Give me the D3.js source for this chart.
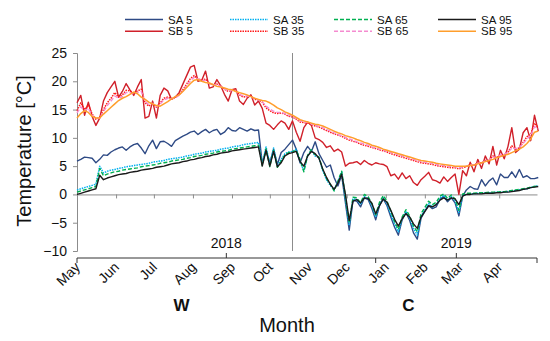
<!DOCTYPE html>
<html>
<head>
<meta charset="utf-8">
<script src="https://cdn.jsdelivr.net/npm/d3@7"></script>
<style>
    body { margin: 0; background: #fff; }
    svg { font-family: "Liberation Sans", Arial, sans-serif; }
</style>
</head>
<body>
<div id="chart"></div>
<script>
// sampling: one value every 3 days starting 1 May 2018
const startDate = new Date(2018, 4, 1);
const endDate = new Date(2019, 4, 1);
const stepDays = 3;

const monthLabels = ["May", "Jun", "Jul", "Aug", "Sep", "Oct", "Nov", "Dec", "Jan", "Feb", "Mar", "Apr"];
const yTicks = [-10, -5, 0, 5, 10, 15, 20, 25];
const yearLabels = ["2018", "2019"];
const yearBreaks = [new Date(2018, 4, 1), new Date(2018, 11, 24), new Date(2019, 4, 1)];
const dividerDate = new Date(2018, 9, 19);
const seasonLabels = ["W", "C"];
const seasonDates = [new Date(2018, 6, 23), new Date(2019, 0, 19)];

const seriesNames = ["SA 5", "SB 5", "SA 35", "SB 35", "SA 65", "SB 65", "SA 95", "SB 95"];

const sa5 = [
    5.9, 6.2, 6.6, 6.5, 6.4, 5.6, 6.2, 7.0, 6.9, 7.5,
    7.9, 8.2, 8.4, 7.8, 8.4, 8.8, 9.0, 8.2, 7.2, 8.6,
    9.6, 8.1, 9.3, 9.4, 9.0, 8.5, 9.5, 9.9, 10.3, 10.6,
    11.0, 11.2, 10.6, 11.1, 11.5, 10.9, 11.3, 11.5, 10.6, 11.0,
    11.8, 11.3, 11.2, 11.8, 11.5, 11.2, 11.6, 11.3, 11.4, 5.5,
    7.8, 5.6, 8.0, 5.3, 7.4, 8.0, 8.8, 9.6, 8.0, 5.6,
    7.4, 8.5, 7.6, 9.3, 7.2, 6.0, 4.8, 5.2, 3.0, 1.5,
    3.4, -1.5, -6.3, -1.0, -1.2, -2.2, -0.6, -0.9, -2.5, -4.5,
    -2.0, -0.8, -2.0, -4.0, -5.8, -7.2, -4.5, -3.2, -4.6, -6.8,
    -7.9, -4.2, -3.0, -2.0, -2.5, -2.2, -0.9, -0.3, -1.3, -0.6,
    -1.5, -3.8, -0.3, 0.8, 1.4, 1.0, 0.9, 2.6, 1.5, 2.4,
    2.9, 1.7, 3.6, 3.0, 3.0, 4.0, 3.0, 4.4, 3.0, 3.3,
    2.8, 2.8, 3.0
];
const sb5 = [
    16.2, 17.5, 14.0, 16.3, 13.8, 12.2, 13.5, 16.5, 18.0, 19.0,
    20.0, 17.2, 18.2, 19.6, 18.5, 17.5, 19.0, 20.3, 13.5, 13.8,
    16.5, 13.5, 17.5, 18.8, 18.3, 16.8, 17.2, 18.0, 19.5, 21.0,
    22.5, 22.8, 20.0, 20.2, 21.8, 18.8, 19.0, 20.3, 19.2, 17.7,
    16.5, 18.5, 18.7, 16.5, 15.9, 17.0, 17.6, 15.8, 16.5, 15.2,
    12.6, 12.2, 11.5, 12.3, 13.0, 12.6, 11.5, 13.0, 11.0, 9.4,
    11.8, 12.8, 12.2, 10.0, 9.7, 9.2, 8.3, 8.6, 7.6, 8.0,
    7.5, 5.0, 5.5, 5.6, 5.8, 5.3, 6.0, 5.5, 5.2, 5.6,
    5.4, 5.3, 4.9, 3.3, 3.6, 2.7, 3.8, 2.8, 3.3, 2.1,
    1.6, 2.6, 3.2, 3.9, 2.6, 2.4, 2.0, 3.1, 2.3, 3.0,
    3.6, 0.0, 4.2, 3.3, 5.7, 4.0, 6.2, 4.6, 6.8, 5.4,
    8.5, 5.2, 7.8, 6.3, 8.5, 11.8, 7.4, 8.0, 10.9, 11.8,
    9.5, 14.0, 11.2
];
const sa35 = [
    0.8, 1.0, 1.2, 1.4, 1.6, 1.8, 5.0, 3.8, 4.1, 4.3,
    4.4, 4.6, 4.7, 4.9, 5.0, 5.1, 5.2, 5.3, 5.4, 5.5,
    5.7, 5.8, 5.9, 6.0, 6.2, 6.3, 6.4, 6.5, 6.6, 6.8,
    6.9, 7.1, 7.2, 7.3, 7.5, 7.6, 7.7, 7.8, 8.0, 8.1,
    8.2, 8.4, 8.5, 8.6, 8.8, 8.9, 9.0, 9.1, 9.2, 5.4,
    8.4, 5.3, 8.2, 5.0, 6.2, 7.2, 7.5, 7.6, 8.0, 5.8,
    4.2, 6.8, 7.8, 6.8, 6.5, 4.2, 2.6, 1.6, 0.8, 2.2,
    4.0, -0.8, -5.5, -0.8, -0.9, -1.8, -0.4, -0.7, -2.0, -4.0,
    -1.8, -0.6, -1.7, -3.5, -5.2, -6.6, -4.2, -3.0, -4.2, -6.0,
    -7.2, -3.8, -2.8, -1.6, -2.2, -1.8, -0.6, -0.2, -1.0, -0.4,
    -1.1, -3.2, -0.2, 0.0, 0.1, 0.1, 0.2, 0.2, 0.3, 0.3,
    0.3, 0.4, 0.4, 0.4, 0.5, 0.6, 0.7, 0.8, 0.9, 1.0,
    1.2, 1.4, 1.5
];
const sb35 = [
    14.8, 16.2, 15.0, 15.8, 14.2, 13.3, 13.6, 15.0, 16.2, 17.0,
    18.0, 17.2, 17.6, 18.4, 18.3, 17.8, 18.3, 18.6, 16.2, 15.6,
    16.2, 15.4, 16.2, 17.0, 17.2, 16.9, 17.2, 17.6, 18.5, 19.5,
    20.5, 21.0, 20.4, 20.2, 20.4, 19.6, 19.4, 19.5, 19.2, 18.6,
    18.2, 18.4, 18.4, 17.6, 17.2, 17.3, 17.4, 16.8, 16.7, 16.3,
    15.3, 14.8, 14.4, 14.3, 14.4, 14.2, 13.8, 13.7, 13.3, 12.8,
    12.7, 12.6, 12.4, 12.1, 11.9, 11.6, 11.3, 11.0, 10.7, 10.5,
    10.3, 9.9, 9.6, 9.4, 9.2, 8.9, 8.7, 8.5, 8.3, 8.1,
    7.9, 7.7, 7.5, 7.2, 7.0, 6.8, 6.6, 6.4, 6.2, 6.0,
    5.8, 5.6, 5.5, 5.4, 5.3, 5.1, 5.0, 4.9, 4.8, 4.7,
    4.7, 4.5, 4.7, 4.9, 5.3, 5.2, 5.6, 5.6, 6.0, 6.0,
    6.8, 6.5, 7.0, 7.0, 7.5, 8.6, 8.0, 8.2, 9.2, 10.2,
    10.6, 12.6, 11.8
];
const sa65 = [
    0.4, 0.6, 0.8, 1.0, 1.2, 1.4, 4.6, 3.3, 3.6, 3.8,
    4.0, 4.1, 4.3, 4.4, 4.5, 4.6, 4.7, 4.9, 5.0, 5.1,
    5.2, 5.3, 5.5, 5.6, 5.7, 5.9, 6.0, 6.1, 6.2, 6.4,
    6.5, 6.7, 6.8, 6.9, 7.1, 7.2, 7.3, 7.5, 7.6, 7.7,
    7.8, 8.0, 8.1, 8.2, 8.3, 8.4, 8.5, 8.6, 8.7, 5.1,
    8.1, 4.9, 7.8, 4.8, 5.9, 7.0, 7.4, 7.5, 7.8, 6.2,
    4.0, 6.9, 7.9, 7.0, 6.6, 4.4, 2.8, 1.8, 0.6, 2.3,
    4.1, -0.4, -5.0, -0.5, -0.6, -1.5, 0.0, -0.4, -1.6, -3.6,
    -1.4, -0.2, -1.2, -3.0, -4.8, -6.2, -4.0, -2.7, -3.8, -5.6,
    -6.6, -3.4, -2.3, -1.2, -1.8, -1.4, -0.3, 0.1, -0.7, -0.1,
    -0.8, -2.8, 0.1, 0.2, 0.2, 0.2, 0.3, 0.3, 0.3, 0.4,
    0.4, 0.4, 0.5, 0.5, 0.6, 0.7, 0.8, 0.9, 1.0, 1.1,
    1.3, 1.4, 1.5
];
const sb65 = [
    14.4, 15.5, 14.8, 15.2, 14.0, 13.4, 13.5, 14.6, 15.7, 16.5,
    17.4, 17.0, 17.3, 18.0, 18.0, 17.7, 18.0, 18.2, 16.5, 15.9,
    16.1, 15.5, 16.0, 16.7, 17.0, 16.9, 17.1, 17.5, 18.3, 19.2,
    20.1, 20.7, 20.4, 20.1, 20.2, 19.6, 19.4, 19.4, 19.1, 18.7,
    18.3, 18.4, 18.3, 17.7, 17.4, 17.4, 17.3, 16.9, 16.7, 16.4,
    15.6, 15.1, 14.7, 14.5, 14.5, 14.3, 14.0, 13.8, 13.4, 13.0,
    12.8, 12.7, 12.5, 12.2, 12.0, 11.8, 11.5, 11.2, 10.9, 10.6,
    10.4, 10.1, 9.8, 9.6, 9.3, 9.1, 8.9, 8.7, 8.4, 8.2,
    8.0, 7.8, 7.6, 7.4, 7.2, 7.0, 6.8, 6.6, 6.4, 6.2,
    6.0, 5.8, 5.7, 5.6, 5.5, 5.3, 5.2, 5.1, 5.0, 4.9,
    4.9, 4.7, 4.8, 5.0, 5.2, 5.3, 5.5, 5.7, 5.9, 6.1,
    6.6, 6.6, 7.0, 7.1, 7.4, 8.2, 8.1, 8.3, 9.0, 9.8,
    10.4, 12.0, 11.6
];
const sa95 = [
    0.0, 0.2, 0.4, 0.6, 0.8, 1.0, 3.4, 2.6, 2.9, 3.1,
    3.3, 3.5, 3.6, 3.7, 3.9, 4.0, 4.1, 4.3, 4.4, 4.5,
    4.6, 4.8, 4.9, 5.0, 5.2, 5.4, 5.5, 5.6, 5.8, 5.9,
    6.1, 6.2, 6.4, 6.5, 6.7, 6.8, 7.0, 7.1, 7.3, 7.4,
    7.5, 7.7, 7.8, 7.9, 8.0, 8.1, 8.2, 8.3, 8.4, 5.0,
    7.8, 5.0, 7.6, 4.9, 5.6, 6.8, 7.2, 7.4, 7.6, 5.8,
    5.0, 6.8, 7.6, 7.2, 6.4, 4.5, 3.0, 1.8, 0.9, 2.0,
    3.6, 0.0, -4.6, -1.2, -0.9, -1.5, -0.6, -0.7, -1.6, -3.4,
    -2.0, -0.8, -1.4, -2.8, -4.4, -5.6, -4.3, -3.4, -4.0, -5.2,
    -6.0, -4.0, -3.0, -2.0, -2.2, -1.8, -1.0, -0.6, -1.0, -0.6,
    -0.8, -1.8, -0.3, 0.0, 0.0, 0.1, 0.1, 0.1, 0.2, 0.2,
    0.2, 0.3, 0.3, 0.4, 0.4, 0.5, 0.6, 0.7, 0.9, 1.0,
    1.2, 1.3, 1.4
];
const sb95 = [
    13.5, 14.3, 14.8, 14.5, 13.8, 13.5, 13.5, 14.2, 14.8, 15.4,
    16.0, 16.6, 17.0, 17.3, 17.7, 18.1, 17.8, 17.2, 16.8, 16.3,
    16.0, 15.7, 15.6, 16.0, 16.4, 16.9, 17.3, 17.6, 18.2, 18.9,
    19.6, 20.2, 20.3, 20.0, 19.8, 19.7, 19.4, 19.1, 19.0, 18.8,
    18.6, 18.5, 18.2, 18.0, 17.8, 17.6, 17.3, 17.0, 16.8, 16.6,
    16.5, 16.2, 15.8, 15.3, 15.0, 14.6, 14.3, 14.0, 13.6, 13.2,
    13.0, 12.8, 12.6, 12.4, 12.3, 12.1, 11.8, 11.5, 11.2, 10.9,
    10.7, 10.4, 10.2, 10.0, 9.7, 9.5, 9.2, 9.0, 8.7, 8.5,
    8.3, 8.0, 7.8, 7.6, 7.4, 7.2, 7.0, 6.8, 6.6, 6.4,
    6.2, 6.0, 5.9, 5.8, 5.7, 5.5, 5.4, 5.3, 5.2, 5.1,
    5.0, 5.0, 5.0, 5.0, 5.1, 5.2, 5.4, 5.6, 5.8, 6.0,
    6.2, 6.5, 6.7, 6.9, 7.1, 7.4, 7.7, 8.0, 8.4, 9.0,
    9.8, 11.0, 11.2
];

const seriesValues = [sa5, sb5, sa35, sb35, sa65, sb65, sa95, sb95];
const seriesStyle = [
    { color: "#2E4A85", dash: null, width: 1.4 },
    { color: "#D0202A", dash: null, width: 1.4 },
    { color: "#00B0F0", dash: "1.5,1", width: 1.5 },
    { color: "#FF1A1A", dash: "1.5,1", width: 1.5 },
    { color: "#00B050", dash: "4,2", width: 1.4 },
    { color: "#F58BD0", dash: "4,2", width: 1.4 },
    { color: "#1A1A1A", dash: null, width: 1.4 },
    { color: "#FF9E2C", dash: null, width: 1.5 }
];

const width = 550, height = 341;
const axisColor = "#8C8C8C";

const svg = d3.select("#chart").append("svg")
    .attr("width", width)
    .attr("height", height);

const x = d3.scaleTime().domain([startDate, endDate]).range([77, 537]);
const y = d3.scaleLinear().domain([-10, 25]).range([251, 53]);

// y axis
const yAxis = svg.append("g")
    .attr("transform", "translate(77,0)")
    .call(d3.axisLeft(y).tickValues(yTicks).tickSize(4).tickSizeOuter(4).tickPadding(6));
yAxis.select(".domain").attr("stroke", axisColor);
yAxis.selectAll(".tick line").attr("stroke", axisColor);
yAxis.selectAll(".tick text").attr("font-size", 14).attr("fill", "#111");

// zero line with month ticks
const monthDates = d3.timeMonth.range(startDate, endDate);
const zeroAxis = svg.append("g")
    .attr("transform", `translate(0,${y(0)})`)
    .call(d3.axisBottom(x).tickValues(monthDates).tickSize(4).tickSizeOuter(0).tickFormat(""));
zeroAxis.select(".domain").attr("stroke", axisColor);
zeroAxis.selectAll(".tick line").attr("stroke", axisColor);

// W / C divider
svg.append("line")
    .attr("x1", x(dividerDate)).attr("x2", x(dividerDate))
    .attr("y1", y(25)).attr("y2", y(-10))
    .attr("stroke", axisColor);

// series lines
const line = d3.line()
    .x((d, i) => x(d3.timeDay.offset(startDate, i * stepDays)))
    .y(d => y(d));

seriesValues.forEach((vals, i) => {
    const st = seriesStyle[i];
    svg.append("path")
        .datum(vals)
        .attr("fill", "none")
        .attr("stroke", st.color)
        .attr("stroke-width", st.width)
        .attr("stroke-dasharray", st.dash)
        .attr("stroke-linejoin", "round")
        .attr("d", line);
});

// bottom (year) axis
const yBase = 258;
svg.append("line")
    .attr("x1", x(startDate)).attr("x2", x(endDate))
    .attr("y1", yBase).attr("y2", yBase)
    .attr("stroke", "#333");
yearBreaks.forEach(d => {
    svg.append("line")
        .attr("x1", x(d)).attr("x2", x(d))
        .attr("y1", yBase).attr("y2", yBase + 5)
        .attr("stroke", "#333");
});
yearLabels.forEach((lab, i) => {
    const mid = (x(yearBreaks[i]) + x(yearBreaks[i + 1])) / 2;
    svg.append("line")
        .attr("x1", mid).attr("x2", mid)
        .attr("y1", yBase).attr("y2", yBase - 5)
        .attr("stroke", "#333");
    svg.append("text")
        .attr("x", mid).attr("y", 248)
        .attr("text-anchor", "middle")
        .attr("font-size", 14)
        .attr("fill", "#111")
        .text(lab);
});

// month labels
svg.append("g").selectAll("text")
    .data(monthDates)
    .join("text")
    .attr("transform", d => `translate(${x(d) + 4},268) rotate(-45)`)
    .attr("text-anchor", "end")
    .attr("font-size", 14)
    .attr("fill", "#111")
    .text((d, i) => monthLabels[i]);

// season labels
seasonLabels.forEach((lab, i) => {
    svg.append("text")
        .attr("x", x(seasonDates[i])).attr("y", 311)
        .attr("text-anchor", "middle")
        .attr("font-size", 17)
        .attr("font-weight", "bold")
        .attr("fill", "#111")
        .text(lab);
});

// axis titles
svg.append("text")
    .attr("x", 287).attr("y", 332)
    .attr("text-anchor", "middle")
    .attr("font-size", 20)
    .attr("fill", "#111")
    .text("Month");

svg.append("text")
    .attr("transform", "translate(31,151) rotate(-90)")
    .attr("text-anchor", "middle")
    .attr("font-size", 20)
    .attr("fill", "#111")
    .text("Temperature [°C]");

// legend: 4 columns x 2 rows
const legendCols = [125, 230, 334, 438];
const legendRows = [19.5, 31.3];
seriesNames.forEach((name, i) => {
    const cx = legendCols[Math.floor(i / 2)];
    const cy = legendRows[i % 2];
    const st = seriesStyle[i];
    svg.append("line")
        .attr("x1", cx).attr("x2", cx + 38)
        .attr("y1", cy).attr("y2", cy)
        .attr("stroke", st.color)
        .attr("stroke-width", 1.6)
        .attr("stroke-dasharray", st.dash);
    svg.append("text")
        .attr("x", cx + 43).attr("y", cy + 4)
        .attr("font-size", 11.5)
        .attr("fill", "#111")
        .text(name);
});
</script>
</body>
</html>
